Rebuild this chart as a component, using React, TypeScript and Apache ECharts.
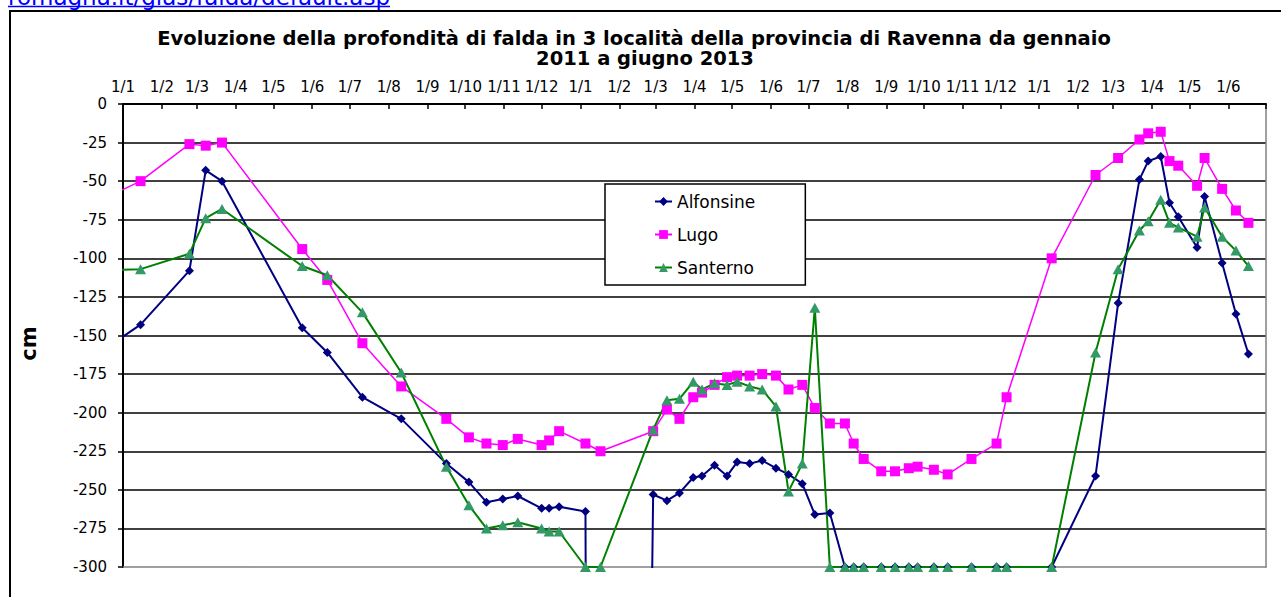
import React, { useEffect, useRef } from 'react';
import * as echarts from 'echarts';

// Measurement dates (the first one lies before the axis start and is clipped)
const dates = [
  '2010-12-15',
  '2011-01-15', '2011-02-23', '2011-03-08', '2011-03-21', '2011-05-24', '2011-06-13', '2011-07-11', '2011-08-11',
  '2011-09-16', '2011-10-04', '2011-10-18', '2011-10-31', '2011-11-12', '2011-12-01', '2011-12-07', '2011-12-15',
  '2012-01-05', '2012-01-17', '2012-02-28', '2012-03-10', '2012-03-20', '2012-03-31', '2012-04-07', '2012-04-17',
  '2012-04-27', '2012-05-05', '2012-05-15', '2012-05-25', '2012-06-05', '2012-06-15', '2012-06-26', '2012-07-06',
  '2012-07-18', '2012-07-30', '2012-08-06', '2012-08-14', '2012-08-28', '2012-09-08', '2012-09-19', '2012-09-26',
  '2012-10-09', '2012-10-20', '2012-11-08', '2012-11-28', '2012-12-06',
  '2013-01-11', '2013-02-15', '2013-03-05', '2013-03-22', '2013-03-29', '2013-04-08', '2013-04-15', '2013-04-22',
  '2013-05-07', '2013-05-13', '2013-05-27', '2013-06-07', '2013-06-17',
];

const alfonsine = [
  -160,
  -143, -108, -43, -50, -145, -161, -190, -204,
  -233, -245, -258, -256, -254, -262, -262, -261,
  -264, -3000, -253, -257, -252, -242, -241, -234,
  -241, -232, -233, -231, -236, -240, -246, -266,
  -265, -300, -300, -300, -300, -300, -300, -300,
  -300, -300, -300, -300, -300,
  -300, -241, -129, -49, -37, -34, -64, -73,
  -93, -60, -103, -136, -162,
];

const lugo = [
  -62,
  -50, -26, -27, -25, -94, -114, -155, -183,
  -204, -216, -220, -221, -217, -221, -218, -212,
  -220, -225, -212, -198, -204, -190, -187, -182,
  -177, -176, -176, -175, -176, -185, -182, -197,
  -207, -207, -220, -230, -238, -238, -236, -235,
  -237, -240, -230, -220, -190,
  -100, -46, -35, -23, -19, -18, -37, -40,
  -53, -35, -55, -69, -77,
];

const santerno = [
  -108,
  -107, -97, -74, -68, -105, -111, -135, -174,
  -235, -260, -275, -273, -271, -275, -277, -277,
  -300, -300, -211, -192, -191, -180, -185, -181,
  -182, -180, -183, -185, -196, -251, -233, -132,
  -300, -300, -300, -300, -300, -300, -300, -300,
  -300, -300, -300, -300, -300,
  -300, -161, -107, -82, -76, -62, -77, -80,
  -86, -67, -86, -95, -105,
];

const seriesNames = ['Alfonsine', 'Lugo', 'Santerno'];
const xStart = '2011-01-01';
const xEnd = '2013-07-01';
const yMin = -300;
const yMax = 0;
const yStep = 25;

const titleLine1 = 'Evoluzione della profondità di falda in 3 località della provincia di Ravenna da gennaio';
const titleLine2 = '2011 a giugno 2013';
const linkText = 'romagna.it/gias/falda/default.asp';

const toTs = (s: string) => {
  const [y, m, d] = s.split('-').map(Number);
  return Date.UTC(y, m - 1, d);
};

// month-start ticks of the date axis
const monthTicks: number[] = [];
for (let y = 2011; y <= 2013; y++) {
  for (let m = 0; m < 12; m++) {
    const t = Date.UTC(y, m, 1);
    if (t >= toTs(xStart) && t <= toTs(xEnd)) monthTicks.push(t);
  }
}
const labelTicks = monthTicks.slice(0, -1);

const FONT = 'DejaVu Sans';

export default function App() {
  const ref = useRef<HTMLDivElement>(null);

  useEffect(() => {
    if (!ref.current) return;
    const chart = echarts.init(ref.current, null, { renderer: 'svg' });

    const mkData = (vals: number[]) => dates.map((d, i) => [toTs(d), vals[i]]);

    chart.setOption({
      animation: false,
      backgroundColor: '#ffffff',
      grid: { left: 123, top: 104, right: 15, bottom: 30, containLabel: false, outerBoundsMode: 'none' },
      graphic: [
        {
          type: 'rect',
          silent: true,
          shape: { x: 10, y: 11, width: 1400, height: 800 },
          style: { fill: 'none', stroke: '#000', lineWidth: 2 },
        },
        {
          type: 'text',
          silent: true,
          x: 8,
          y: -3,
          style: {
            text: linkText, fill: '#0000ff', fontFamily: FONT, fontSize: 23,
            align: 'left', verticalAlign: 'middle', textAlign: 'left', textVerticalAlign: 'middle',
          },
        },
        {
          type: 'line',
          silent: true,
          shape: { x1: 8, y1: 6.5, x2: 390, y2: 6.5 },
          style: { stroke: '#0000ff', lineWidth: 1.5 },
        },
        {
          type: 'text',
          silent: true,
          x: 634,
          y: 38,
          style: {
            text: titleLine1, fill: '#000', fontFamily: FONT, fontWeight: 'bold', fontSize: 19.5,
            align: 'center', verticalAlign: 'middle', textAlign: 'center', textVerticalAlign: 'middle',
          },
        },
        {
          type: 'text',
          silent: true,
          x: 645,
          y: 58.5,
          style: {
            text: titleLine2, fill: '#000', fontFamily: FONT, fontWeight: 'bold', fontSize: 19.5,
            align: 'center', verticalAlign: 'middle', textAlign: 'center', textVerticalAlign: 'middle',
          },
        },
      ],
      legend: {
        orient: 'vertical',
        left: 605,
        top: 184,
        padding: [9, 50, 9, 49],
        itemWidth: 17,
        itemHeight: 11,
        itemGap: 16,
        backgroundColor: '#fff',
        borderColor: '#000',
        borderWidth: 1.5,
        borderRadius: 0,
        textStyle: { fontFamily: FONT, fontSize: 17, color: '#000', lineHeight: 17 },
        data: seriesNames,
      },
      xAxis: [
        {
          type: 'value',
          position: 'top',
          min: toTs(xStart),
          max: toTs(xEnd),
          axisLine: { show: true, onZero: false, lineStyle: { color: '#000', width: 2 } },
          axisTick: { show: true, inside: true, length: 5, customValues: monthTicks, lineStyle: { color: '#000', width: 1.5 } },
          axisLabel: {
            show: true,
            customValues: labelTicks,
            margin: 10,
            fontFamily: FONT,
            fontSize: 15,
            color: '#000',
            hideOverlap: false,
            formatter: (v: number) => {
              const d = new Date(v);
              return d.getUTCDate() + '/' + (d.getUTCMonth() + 1);
            },
          },
          splitLine: { show: false },
        },
        {
          type: 'value',
          position: 'bottom',
          min: toTs(xStart),
          max: toTs(xEnd),
          axisLine: { show: true, onZero: false, lineStyle: { color: '#808080', width: 1.5 } },
          axisTick: { show: false },
          axisLabel: { show: false },
          splitLine: { show: false },
        },
      ],
      yAxis: [
        {
          type: 'value',
          min: yMin,
          max: yMax,
          interval: yStep,
          name: 'cm',
          nameLocation: 'middle',
          nameGap: 84,
          nameTextStyle: { fontFamily: FONT, fontWeight: 'bold', fontSize: 21, color: '#000', padding: [0, 16, 0, 0] },
          axisLine: { show: true, onZero: false, lineStyle: { color: '#000', width: 2 } },
          axisTick: { show: true, length: 5, lineStyle: { color: '#000', width: 1.5 } },
          axisLabel: { margin: 16, fontFamily: FONT, fontSize: 15, color: '#000' },
          splitLine: { show: true, showMinLine: false, showMaxLine: false, lineStyle: { color: '#000', width: 1.5 } },
        },
        {
          type: 'value',
          position: 'right',
          min: yMin,
          max: yMax,
          interval: yStep,
          axisLine: { show: true, onZero: false, lineStyle: { color: '#808080', width: 1.5 } },
          axisTick: { show: false },
          axisLabel: { show: false },
          splitLine: { show: false },
        },
      ],
      series: [
        {
          name: seriesNames[0],
          type: 'line',
          xAxisIndex: 0,
          yAxisIndex: 0,
          data: mkData(alfonsine),
          symbol: 'diamond',
          symbolSize: 9,
          clip: true,
          lineStyle: { color: '#000080', width: 2 },
          itemStyle: { color: '#000080' },
        },
        {
          name: seriesNames[1],
          type: 'line',
          xAxisIndex: 0,
          yAxisIndex: 0,
          data: mkData(lugo),
          symbol: 'rect',
          symbolSize: 10,
          clip: true,
          lineStyle: { color: '#ff00ff', width: 1.5 },
          itemStyle: { color: '#ff00ff' },
        },
        {
          name: seriesNames[2],
          type: 'line',
          xAxisIndex: 0,
          yAxisIndex: 0,
          data: mkData(santerno),
          symbol: 'triangle',
          symbolSize: [11, 10],
          clip: true,
          lineStyle: { color: '#008000', width: 2 },
          itemStyle: { color: '#339966' },
        },
      ],
    });

    return () => chart.dispose();
  }, []);

  return (
    <div
      ref={ref}
      style={{ position: 'fixed', left: 0, top: 0, width: 1281, height: 597, background: '#fff' }}
    />
  );
}
